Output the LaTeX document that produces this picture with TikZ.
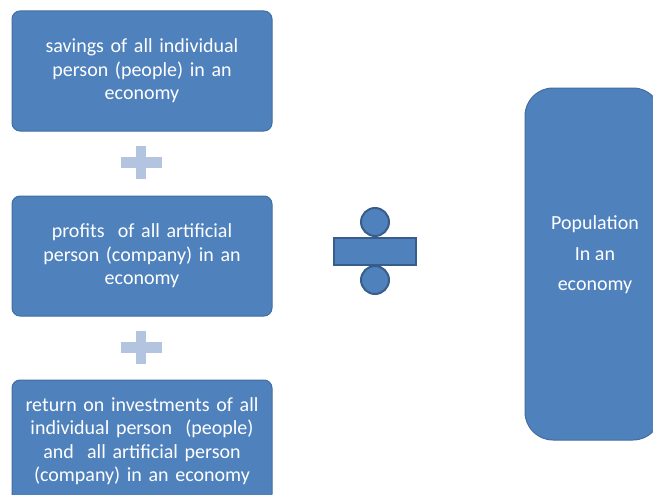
\documentclass[tikz,border=0pt]{standalone}
\usepackage{fontspec}
\setmainfont{Carlito}
\definecolor{boxblue}{RGB}{79,129,189}
\definecolor{boxedge}{RGB}{65,110,160}
\definecolor{divedge}{RGB}{56,93,138}
\definecolor{pluscol}{RGB}{178,196,224}
\begin{document}
\begin{tikzpicture}[x=1pt,y=-1pt,
  leftbox/.style={draw=boxedge,line width=1pt,fill=boxblue,rounded corners=8pt,
    minimum width=260pt,text width=250pt,align=center,text=white,
    font=\fontsize{20}{23.5}\selectfont,inner sep=0pt},
  plusbar/.style={fill=pluscol,draw=none,inner sep=0pt},
  divpart/.style={fill=boxblue,draw=divedge,line width=2pt,inner sep=0pt}]
\useasboundingbox (0,0) rectangle (653,495);
\clip (0,0) rectangle (653,495);
% left boxes
\node[leftbox,minimum height=120pt] (sav) at (142,71) {savings of all individual\\person (people) in an\\economy};
\node[leftbox,minimum height=120pt] (prof) at (142,256) {profits~ of all artificial\\person (company) in an\\economy};
\node[leftbox,minimum height=122pt] (ret) at (142,441) {return on investments of all\\individual person~ (people)\\and~ all artificial person\\(company) in an economy};
% plus signs
\node[plusbar,minimum width=41pt,minimum height=11pt] (p1h) at (141.5,162.5) {};
\node[plusbar,minimum width=10pt,minimum height=33pt] (p1v) at (141,162.5) {};
\node[plusbar,minimum width=41pt,minimum height=11pt] (p2h) at (141.5,347) {};
\node[plusbar,minimum width=10pt,minimum height=33pt] (p2v) at (141,347) {};
% divide sign
\node[divpart,circle,minimum size=28pt] (dtop) at (375,222) {};
\node[divpart,circle,minimum size=28pt] (dbot) at (375,280) {};
\node[divpart,minimum width=82pt,minimum height=27pt] (dbar) at (375,251.5) {};
% right box
\node[draw=boxedge,line width=1pt,fill=boxblue,rounded corners=28pt,
  minimum width=136pt,minimum height=352pt,inner sep=0pt] (pop) at (593,264) {};
\node[text=white,align=center,font=\fontsize{20}{30.5}\selectfont,inner sep=0pt] (poptxt) at (595,255) {Population\\In an\\economy};
\end{tikzpicture}
\end{document}
